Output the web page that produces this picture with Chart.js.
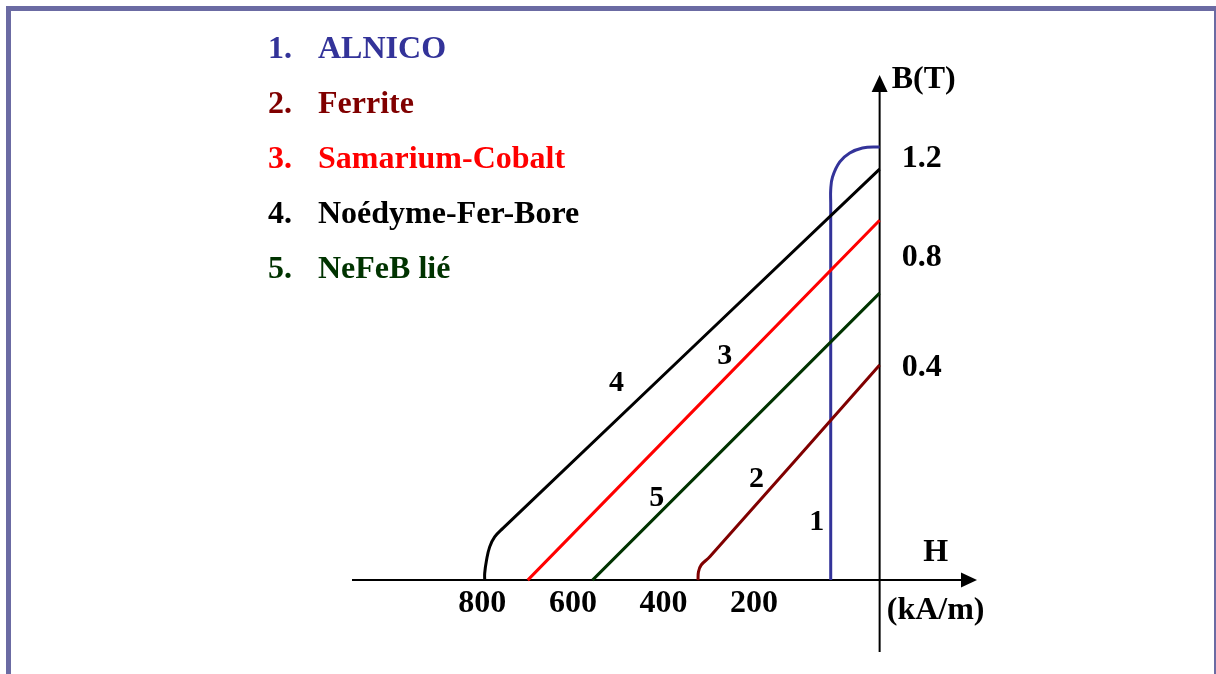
<!DOCTYPE html>
<html>
<head>
<meta charset="utf-8">
<script src="https://cdn.jsdelivr.net/npm/chart.js@4.4.1/dist/chart.umd.min.js"></script>
<style>
  html, body { margin: 0; padding: 0; background: #fff; }
  #wrap { position: relative; width: 1216px; height: 674px; overflow: hidden; }
  #frame {
    position: absolute; left: 6px; top: 6px; width: 1203px; height: 700px;
    border-top: 5px solid #6b6ba3; border-left: 5px solid #6b6ba3; border-right: 2px solid #6b6ba3;
  }
  #bhChart { position: absolute; left: 0; top: 0; }
</style>
</head>
<body>
<div id="wrap">
  <div id="frame"></div>
  <canvas id="bhChart" width="1216" height="674"></canvas>
</div>
<script>
// Demagnetisation curves, H in kA/m (plotted to the left), B in T
const seriesNames = ["ALNICO", "Ferrite", "Samarium-Cobalt", "Noédyme-Fer-Bore", "NeFeB lié"];
const seriesColors = ["#333399", "#800000", "#ff0000", "#000000", "#003300"];

const alnicoH = [108, 108, 108, 104, 88, 66, 38, 0];
const alnicoB = [0, 1.10, 1.14, 1.177, 1.221, 1.247, 1.262, 1.265];

const ferriteH = [0, 375, 394, 400, 401];
const ferriteB = [0.628, 0.068, 0.044, 0.024, 0];

const smcoH = [0, 777];
const smcoB = [1.051, 0];

const ndfebH = [0, 832, 850, 861, 868, 872, 872];
const ndfebB = [1.2, 0.151, 0.126, 0.097, 0.058, 0.02, 0];

const bondedH = [0, 634];
const bondedB = [0.838, 0];

// axis tick labels (the B labels in the source are not on a linear scale, so they sit where drawn)
const hTicks = [800, 600, 400, 200];
const bTickPos = [1.23, 0.94, 0.62];
const bTickText = ["1.2", "0.8", "0.4"];

// curve number tags, in data units (H, B)
const tagH = [139, 272, 342, 581, 492];
const tagB = [0.169, 0.295, 0.654, 0.575, 0.239];

const FONT = '"Liberation Serif", "Times New Roman", serif';

function toPoints(hs, bs) {
  return hs.map((h, i) => ({ x: h, y: bs[i] }));
}

const curves = [
  toPoints(alnicoH, alnicoB),
  toPoints(ferriteH, ferriteB),
  toPoints(smcoH, smcoB),
  toPoints(ndfebH, ndfebB),
  toPoints(bondedH, bondedB)
];

const axesPlugin = {
  id: "bhAxes",
  beforeDatasetsDraw(chart) {
    const { ctx, chartArea, scales: { x, y } } = chart;
    const x0 = x.getPixelForValue(0);
    const y0 = y.getPixelForValue(0);
    ctx.save();
    ctx.strokeStyle = "#000";
    ctx.fillStyle = "#000";
    ctx.lineWidth = 2;

    // H axis
    ctx.beginPath();
    ctx.moveTo(chartArea.left, y0);
    ctx.lineTo(chartArea.right - 14, y0);
    ctx.stroke();
    ctx.beginPath();
    ctx.moveTo(chartArea.right, y0);
    ctx.lineTo(chartArea.right - 16, y0 - 7.5);
    ctx.lineTo(chartArea.right - 16, y0 + 7.5);
    ctx.closePath();
    ctx.fill();

    // B axis
    ctx.beginPath();
    ctx.moveTo(x0, chartArea.bottom);
    ctx.lineTo(x0, chartArea.top + 14);
    ctx.stroke();
    ctx.beginPath();
    ctx.moveTo(x0, chartArea.top);
    ctx.lineTo(x0 - 8, chartArea.top + 17);
    ctx.lineTo(x0 + 8, chartArea.top + 17);
    ctx.closePath();
    ctx.fill();
    ctx.restore();
  },
  afterDraw(chart) {
    const { ctx, chartArea, scales: { x, y } } = chart;
    const x0 = x.getPixelForValue(0);
    const y0 = y.getPixelForValue(0);
    ctx.save();
    ctx.font = "bold 32px " + FONT;
    ctx.fillStyle = "#000";
    ctx.textBaseline = "middle";

    // H tick labels
    ctx.textAlign = "center";
    hTicks.forEach(v => {
      ctx.fillText(String(v), x.getPixelForValue(v) - 35, y0 + 24);
    });
    // B tick labels
    ctx.textAlign = "left";
    bTickPos.forEach((v, i) => {
      ctx.fillText(bTickText[i], x0 + 22, y.getPixelForValue(v));
    });

    // axis titles
    ctx.textAlign = "center";
    ctx.fillText("H", x0 + 56, y0 - 27);
    ctx.fillText("(kA/m)", x0 + 56, y0 + 31);
    ctx.textAlign = "left";
    ctx.fillText("B(T)", x0 + 12, chartArea.top + 5);

    // curve numbers
    ctx.font = "bold 30px " + FONT;
    ctx.textAlign = "center";
    tagH.forEach((h, i) => {
      ctx.fillText(String(i + 1), x.getPixelForValue(h), y.getPixelForValue(tagB[i]));
    });

    // numbered legend
    ctx.font = "bold 32px " + FONT;
    ctx.textAlign = "left";
    ctx.textBaseline = "alphabetic";
    chart.data.datasets.forEach((ds, i) => {
      const base = 58 + i * 55;
      ctx.fillStyle = ds.borderColor;
      ctx.fillText((i + 1) + ".", 268, base);
      ctx.fillText(ds.label, 318, base);
    });
    ctx.restore();
  }
};

const ctx = document.getElementById("bhChart").getContext("2d");
new Chart(ctx, {
  type: "scatter",
  data: {
    datasets: curves.map((pts, i) => ({
      label: seriesNames[i],
      data: pts,
      showLine: true,
      borderColor: seriesColors[i],
      backgroundColor: seriesColors[i],
      borderWidth: 3,
      pointRadius: 0,
      tension: 0.4,
      fill: false,
      order: i === 0 ? 10 : i
    }))
  },
  options: {
    responsive: false,
    animation: false,
    layout: { padding: { left: 352, right: 239, top: 75, bottom: 22 } },
    scales: {
      x: { type: "linear", reverse: true, min: -215, max: 1165, display: false },
      y: { type: "linear", min: -0.21, max: 1.475, display: false }
    },
    plugins: {
      legend: { display: false },
      tooltip: { enabled: false }
    }
  },
  plugins: [axesPlugin]
});
</script>
</body>
</html>
